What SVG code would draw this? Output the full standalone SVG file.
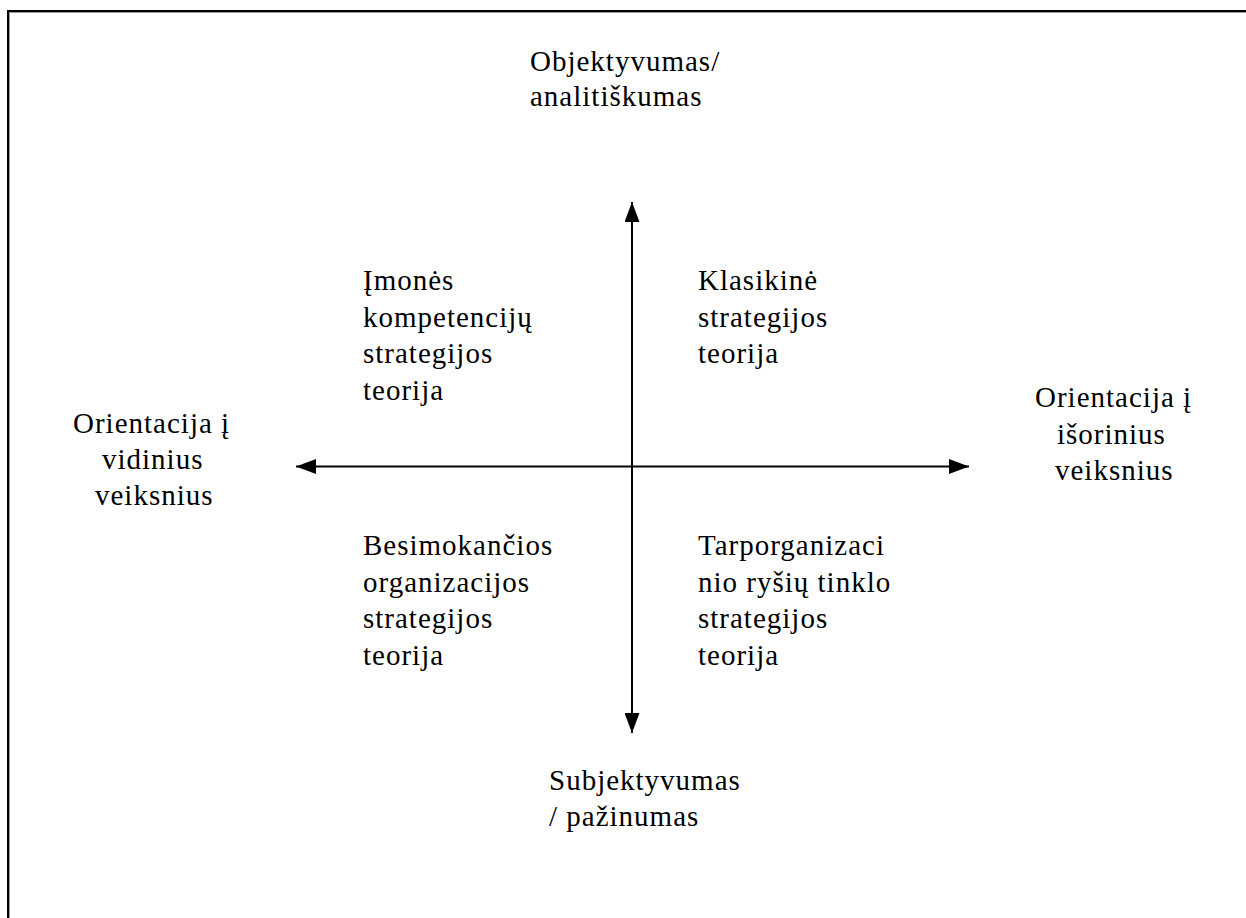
<svg xmlns="http://www.w3.org/2000/svg" width="1246" height="918" viewBox="0 0 1246 918">
<style>
text{font-family:"Liberation Serif","Times New Roman",serif;font-size:29px;letter-spacing:1px;fill:#000}
.ax{stroke:#000;stroke-width:2;fill:none}
</style>
<defs>
<marker id="ah" viewBox="0 0 20 15" refX="20" refY="7.5" markerWidth="20" markerHeight="15" markerUnits="userSpaceOnUse" orient="auto-start-reverse">
<path d="M0,0 L20,7.5 L0,15 z" fill="#000"/>
</marker>
</defs>
<rect width="1246" height="918" fill="#fff"/>
<g id="frame">
<path d="M8 918 V11 H1246" stroke="#000" stroke-width="2" fill="none"/>
<path d="M9.5 918 V12.5 H1246" stroke="#999" stroke-width="1" fill="none"/>
</g>
<g id="connectors">
<line class="ax" x1="632" y1="202" x2="632" y2="733" marker-start="url(#ah)" marker-end="url(#ah)"/>
<line class="ax" x1="296" y1="466.5" x2="969" y2="466.5" marker-start="url(#ah)" marker-end="url(#ah)"/>
</g>
<g id="top">
<text x="530" y="71">Objektyvumas/</text>
<text x="530" y="106">analitiškumas</text>
</g>
<g id="bottom">
<text x="549" y="790">Subjektyvumas</text>
<text x="549" y="826">/ pažinumas</text>
</g>
<g id="left">
<text x="73" y="433">Orientacija į</text>
<text x="102" y="469">vidinius</text>
<text x="95" y="505">veiksnius</text>
</g>
<g id="right">
<text x="1035" y="407">Orientacija į</text>
<text x="1057" y="444">išorinius</text>
<text x="1055" y="480">veiksnius</text>
</g>
<g id="q-top-left">
<text x="363" y="290">Įmonės</text>
<text x="363" y="327">kompetencijų</text>
<text x="363" y="363">strategijos</text>
<text x="363" y="400">teorija</text>
</g>
<g id="q-top-right">
<text x="698" y="290">Klasikinė</text>
<text x="698" y="327">strategijos</text>
<text x="698" y="363">teorija</text>
</g>
<g id="q-bottom-left">
<text x="363" y="555">Besimokančios</text>
<text x="363" y="592">organizacijos</text>
<text x="363" y="628">strategijos</text>
<text x="363" y="665">teorija</text>
</g>
<g id="q-bottom-right">
<text x="698" y="555">Tarporganizaci</text>
<text x="698" y="592">nio ryšių tinklo</text>
<text x="698" y="628">strategijos</text>
<text x="698" y="665">teorija</text>
</g>
</svg>
